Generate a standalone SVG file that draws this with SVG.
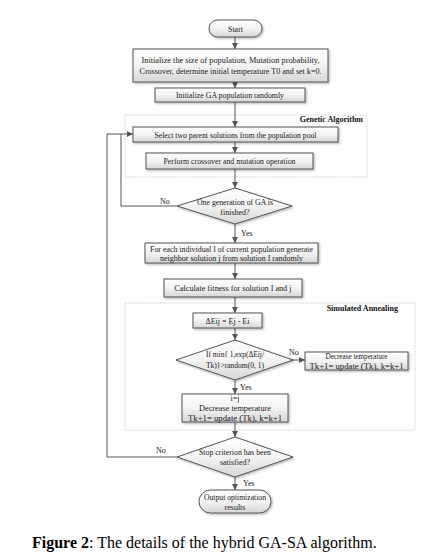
<svg xmlns="http://www.w3.org/2000/svg" width="447" height="558" viewBox="0 0 447 558">
<defs>
<linearGradient id="g" x1="0" y1="0" x2="0" y2="1">
<stop offset="0" stop-color="#ffffff"/>
<stop offset="0.5" stop-color="#f3f3f3"/>
<stop offset="1" stop-color="#d6d6d6"/>
</linearGradient>
<marker id="ah" viewBox="0 0 10 10" refX="10" refY="5" markerWidth="6" markerHeight="6" orient="auto" markerUnits="userSpaceOnUse">
<path d="M0,0 L10,5 L0,10 z" fill="#555"/>
</marker>
<filter id="sh" x="-10%" y="-10%" width="130%" height="150%">
<feDropShadow dx="1.2" dy="1.2" stdDeviation="0.8" flood-color="#000" flood-opacity="0.3"/>
</filter>
</defs>
<style>
.n{fill:url(#g);stroke:#555;stroke-width:1;filter:url(#sh)}
.t{font-family:"Liberation Serif","Times New Roman",serif;font-size:8px;fill:#1a1a1a;text-anchor:middle}
.lb{font-family:"Liberation Serif","Times New Roman",serif;font-size:8px;fill:#1a1a1a}
.hd{font-family:"Liberation Serif","Times New Roman",serif;font-size:8px;font-weight:bold;fill:#111;text-anchor:end}
.reg{fill:none;stroke:#d4d4d4;stroke-width:1;stroke-dasharray:1.5 1}
.c{fill:none;stroke:#555;stroke-width:1}
.a{marker-end:url(#ah)}
</style>
<rect width="447" height="558" fill="#fff"/>

<g id="regions">
<rect class="reg" x="125" y="115" width="242" height="62"/>
<rect class="reg" x="125" y="303" width="290" height="127"/>
<text class="hd" x="363" y="122">Genetic Algorithm</text>
<text class="hd" x="398" y="311">Simulated Annealing</text>
</g>

<g id="connectors">
<line class="c a" x1="235" y1="37" x2="235" y2="49"/>
<line class="c a" x1="235" y1="82" x2="235" y2="88"/>
<line class="c a" x1="235" y1="102" x2="235" y2="127"/>
<line class="c a" x1="235" y1="142" x2="235" y2="153"/>
<line class="c a" x1="235" y1="169" x2="235" y2="188"/>
<line class="c a" x1="235" y1="224" x2="235" y2="243"/>
<line class="c a" x1="235" y1="263" x2="235" y2="279"/>
<line class="c a" x1="235" y1="297" x2="235" y2="313"/>
<line class="c a" x1="235" y1="328" x2="235" y2="340"/>
<line class="c a" x1="235" y1="380" x2="235" y2="394"/>
<line class="c a" x1="293" y1="360" x2="305" y2="360"/>
<line class="c a" x1="235" y1="422" x2="235" y2="437"/>
<line class="c a" x1="235" y1="477" x2="235" y2="490"/>
<path class="c a" d="M177,206 H121 V134 H133"/>
<path class="c" d="M177,457 H107 V134 H121"/>
<text class="lb" x="160" y="204">No</text>
<text class="lb" x="241" y="236">Yes</text>
<text class="lb" x="289" y="355">No</text>
<text class="lb" x="240" y="390">Yes</text>
<text class="lb" x="156" y="453">No</text>
<text class="lb" x="243" y="486">Yes</text>
</g>

<g id="start">
<rect class="n" x="209" y="20" width="53" height="17" rx="8.5"/>
<text class="t" x="235.5" y="31.5">Start</text>
</g>

<g id="init">
<rect class="n" x="133" y="49" width="195" height="33"/>
<text class="t" x="230.5" y="63" textLength="178" lengthAdjust="spacingAndGlyphs">Initialize the size of population, Mutation probability,</text>
<text class="t" x="230.5" y="74" textLength="182" lengthAdjust="spacingAndGlyphs">Crossover, determine initial temperature T0 and set k=0.</text>
</g>

<g id="initga">
<rect class="n" x="155" y="88" width="150" height="14"/>
<text class="t" x="230" y="98" textLength="108" lengthAdjust="spacingAndGlyphs">Initialize GA population randomly</text>
</g>

<g id="select">
<rect class="n" x="133" y="127" width="205" height="15"/>
<text class="t" x="235.5" y="137.5" textLength="162" lengthAdjust="spacingAndGlyphs">Select two parent solutions from the population pool</text>
</g>

<g id="perform">
<rect class="n" x="146" y="153" width="167" height="16"/>
<text class="t" x="229.5" y="164" textLength="132" lengthAdjust="spacingAndGlyphs">Perform crossover and mutation operation</text>
</g>

<g id="gen-done">
<polygon class="n" points="235,188 292,206 235,224 177,206"/>
<text class="t" x="235" y="205" textLength="76" lengthAdjust="spacingAndGlyphs">One generation of GA is</text>
<text class="t" x="235" y="215">finished?</text>
</g>

<g id="neighbor">
<rect class="n" x="145" y="243" width="173" height="20"/>
<text class="t" x="231.5" y="251.5" textLength="163" lengthAdjust="spacingAndGlyphs">For each individual I of current population generate</text>
<text class="t" x="231.5" y="261" textLength="143" lengthAdjust="spacingAndGlyphs">neighbor solution j from solution I randomly</text>
</g>

<g id="fitness">
<rect class="n" x="164" y="279" width="138" height="18"/>
<text class="t" x="233" y="291" textLength="117" lengthAdjust="spacingAndGlyphs">Calculate fitness for solution I and j</text>
</g>

<g id="delta">
<rect class="n" x="193" y="313" width="69" height="15"/>
<text class="t" x="227.5" y="323.5">ΔEij = Ej - Ei</text>
</g>

<g id="accept">
<polygon class="n" points="235,340 293,360 235,380 176,360"/>
<text class="t" x="235" y="357" textLength="58" lengthAdjust="spacingAndGlyphs">If min{ 1,exp(ΔEij/</text>
<text class="t" x="235" y="368" textLength="58" lengthAdjust="spacingAndGlyphs">Tk)}&gt;random(0, 1)</text>
</g>

<g id="decrease-side">
<rect class="n" x="305" y="352" width="103" height="18"/>
<text class="t" x="356.5" y="359" font-size="7" textLength="62" lengthAdjust="spacingAndGlyphs">Decrease temperature</text>
<text class="t" x="356.5" y="368.5" textLength="94" lengthAdjust="spacingAndGlyphs">Tk+1= update (Tk), k=k+1</text>
</g>

<g id="decrease">
<rect class="n" x="182" y="394" width="106" height="28"/>
<text class="t" x="235" y="400.5" font-size="6.5">i=j</text>
<text class="t" x="235" y="411" textLength="72" lengthAdjust="spacingAndGlyphs">Decrease temperature</text>
<text class="t" x="235" y="421" textLength="94" lengthAdjust="spacingAndGlyphs">Tk+1= update (Tk), k=k+1</text>
</g>

<g id="stop">
<polygon class="n" points="235,437 293,457 235,477 177,457"/>
<text class="t" x="235" y="455" textLength="72" lengthAdjust="spacingAndGlyphs">Stop criterion has been</text>
<text class="t" x="235" y="465">satisfied?</text>
</g>

<g id="output">
<rect class="n" x="199" y="490" width="72" height="23" rx="11.5"/>
<text class="t" x="235" y="500" textLength="62" lengthAdjust="spacingAndGlyphs">Output optimization</text>
<text class="t" x="235" y="510">results</text>
</g>

<text x="32" y="548" font-family="'Liberation Serif','Times New Roman',serif" font-size="16" fill="#000"><tspan font-weight="bold">Figure 2</tspan>: The details of the hybrid GA-SA algorithm.</text>
</svg>
